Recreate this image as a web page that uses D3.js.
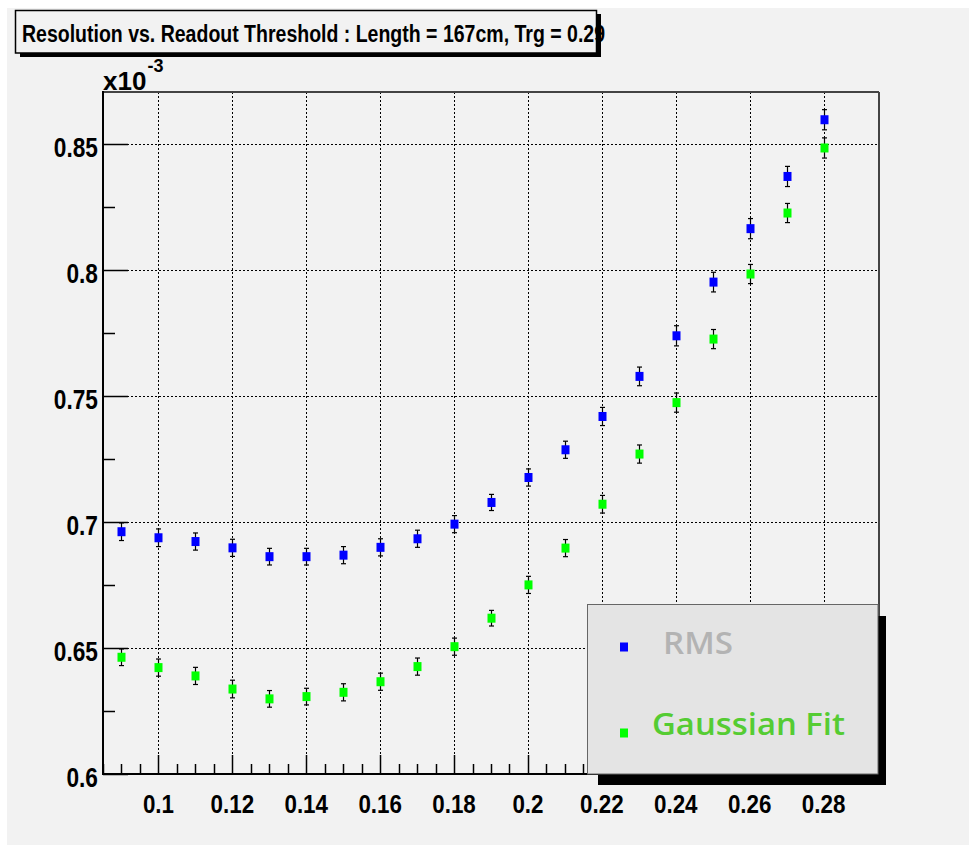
<!DOCTYPE html>
<html><head><meta charset="utf-8">
<script src="https://cdn.jsdelivr.net/npm/d3@7"></script>
<style>html,body{margin:0;padding:0;background:#fff;}svg{display:block;}</style>
</head><body>
<script>
// ---- data (y values in units of 1e-3) ----
const thresholds = [0.09,0.10,0.11,0.12,0.13,0.14,0.15,0.16,0.17,0.18,0.19,0.20,0.21,0.22,0.23,0.24,0.25,0.26,0.27,0.28];
const rmsValues = [0.6961,0.6937,0.6922,0.6897,0.6862,0.6862,0.6868,0.6899,0.6933,0.6991,0.7077,0.7176,0.7286,0.7418,0.7577,0.7738,0.7951,0.8163,0.8370,0.8595];
const rmsErrors = [0.0035,0.0035,0.0034,0.0034,0.0033,0.0033,0.0034,0.0034,0.0034,0.0034,0.0032,0.0034,0.0034,0.0036,0.0037,0.0040,0.0039,0.0040,0.0040,0.0040];
const gaussValues = [0.6463,0.6422,0.6389,0.6337,0.6298,0.6307,0.6324,0.6366,0.6426,0.6505,0.6618,0.6750,0.6896,0.7070,0.7269,0.7473,0.7725,0.7983,0.8225,0.8483];
const gaussErrors = [0.0033,0.0034,0.0034,0.0035,0.0033,0.0033,0.0034,0.0034,0.0034,0.0034,0.0031,0.0034,0.0034,0.0035,0.0036,0.0038,0.0038,0.0038,0.0038,0.0040];
const xTickValues = [0.10,0.12,0.14,0.16,0.18,0.20,0.22,0.24,0.26,0.28];
const xTickLabels = ["0.1","0.12","0.14","0.16","0.18","0.2","0.22","0.24","0.26","0.28"];
const yTickValues = [0.60,0.65,0.70,0.75,0.80,0.85];
const yTickLabels = ["0.6","0.65","0.7","0.75","0.8","0.85"];
const seriesNames = ["RMS","Gaussian Fit"];
const titleText = "Resolution vs. Readout Threshold : Length = 167cm, Trg = 0.29";

const W = 969, H = 845;
const L = 103, R = 879, T = 92, B = 774;
const svg = d3.select("body").append("svg").attr("width", W).attr("height", H);
svg.append("rect").attr("x", 7).attr("y", 8).attr("width", W - 7).attr("height", H - 8).attr("fill", "#f2f2f2");

const x = d3.scaleLinear().domain([0.085, 0.295]).range([L, R]);
const y = d3.scaleLinear().domain([0.6, 0.8705]).range([B, T]);

const labelFont = "'Liberation Sans', Arial, sans-serif";
function condense(sel, f) {
  sel.each(function () { const w = this.getComputedTextLength(); d3.select(this).attr("textLength", w * f).attr("lengthAdjust", "spacingAndGlyphs"); });
}

// grid
const grid = svg.append("g").attr("stroke", "#000").attr("stroke-width", 1).attr("stroke-dasharray", "2,2");
grid.selectAll("line.gx").data(xTickValues).join("line")
  .attr("x1", d => Math.round(x(d)) + 0.5).attr("x2", d => Math.round(x(d)) + 0.5).attr("y1", T).attr("y2", B);
grid.selectAll("line.gy").data(yTickValues.slice(1)).join("line")
  .attr("x1", L).attr("x2", R).attr("y1", d => Math.round(y(d)) + 0.5).attr("y2", d => Math.round(y(d)) + 0.5);

// frame
svg.append("line").attr("x1", L).attr("x2", R).attr("y1", T).attr("y2", T).attr("stroke", "#444").attr("stroke-width", 2);
svg.append("line").attr("x1", R).attr("x2", R).attr("y1", T).attr("y2", B).attr("stroke", "#444").attr("stroke-width", 2);

// axes with ticks drawn inward
const xMinor = d3.range(0.085, 0.2951, 0.005).map(v => +v.toFixed(3)).filter(v => !xTickValues.some(t => Math.abs(t - v) < 1e-6));
const axG = svg.append("g").attr("stroke", "#000");
axG.selectAll("line.xmaj").data(xTickValues).join("line")
  .attr("x1", d => Math.round(x(d)) + 0.5).attr("x2", d => Math.round(x(d)) + 0.5).attr("y1", B).attr("y2", B - 19).attr("stroke-width", 1.5);
axG.selectAll("line.xmin").data(xMinor).join("line")
  .attr("x1", d => Math.round(x(d)) + 0.5).attr("x2", d => Math.round(x(d)) + 0.5).attr("y1", B).attr("y2", B - 10).attr("stroke-width", 1.5);
const yMinor = [0.625,0.675,0.725,0.775,0.825];
axG.selectAll("line.ymaj").data(yTickValues).join("line")
  .attr("x1", L).attr("x2", L + 25).attr("y1", d => Math.round(y(d)) + 0.5).attr("y2", d => Math.round(y(d)) + 0.5).attr("stroke-width", 1.5);
axG.selectAll("line.ymin").data(yMinor).join("line")
  .attr("x1", L).attr("x2", L + 12).attr("y1", d => Math.round(y(d)) + 0.5).attr("y2", d => Math.round(y(d)) + 0.5).attr("stroke-width", 1.5);
svg.append("line").attr("x1", L).attr("x2", R).attr("y1", B).attr("y2", B).attr("stroke", "#000").attr("stroke-width", 2);
svg.append("line").attr("x1", L).attr("x2", L).attr("y1", T - 1).attr("y2", B + 1).attr("stroke", "#000").attr("stroke-width", 2);

// data
function drawSeries(vals, errs, color) {
  const g = svg.append("g");
  const pts = thresholds.map((t, i) => ({ t, v: vals[i], e: errs[i] }));
  g.selectAll("line.eb").data(pts).join("line")
    .attr("x1", d => Math.round(x(d.t)) + 0.5).attr("x2", d => Math.round(x(d.t)) + 0.5)
    .attr("y1", d => y(d.v + d.e)).attr("y2", d => y(d.v - d.e)).attr("stroke", "#000").attr("stroke-width", 1.2);
  g.selectAll("line.cu").data(pts).join("line")
    .attr("x1", d => Math.round(x(d.t)) - 2).attr("x2", d => Math.round(x(d.t)) + 3)
    .attr("y1", d => y(d.v + d.e)).attr("y2", d => y(d.v + d.e)).attr("stroke", "#000").attr("stroke-width", 1.2);
  g.selectAll("line.cd").data(pts).join("line")
    .attr("x1", d => Math.round(x(d.t)) - 2).attr("x2", d => Math.round(x(d.t)) + 3)
    .attr("y1", d => y(d.v - d.e)).attr("y2", d => y(d.v - d.e)).attr("stroke", "#000").attr("stroke-width", 1.2);
  g.selectAll("rect").data(pts).join("rect")
    .attr("x", d => Math.round(x(d.t)) - 3.5).attr("y", d => y(d.v) - 4.5).attr("width", 8).attr("height", 9)
    .attr("fill", color);
}
drawSeries(rmsValues, rmsErrors, "#0000ff");
drawSeries(gaussValues, gaussErrors, "#00ff00");

// tick labels
const yl = svg.append("g").attr("font-family", labelFont).attr("font-weight", "bold").attr("font-size", 27).attr("fill", "#000");
yl.selectAll("text").data(yTickValues).join("text")
  .attr("x", 98).attr("y", d => y(d) + 13).attr("text-anchor", "end").text((d, i) => yTickLabels[i]).call(condense, 0.84);
const xl = svg.append("g").attr("font-family", labelFont).attr("font-weight", "bold").attr("font-size", 26).attr("fill", "#000");
xl.selectAll("text").data(xTickValues).join("text")
  .attr("x", d => x(d)).attr("y", 813).attr("text-anchor", "middle").text((d, i) => xTickLabels[i]).call(condense, 0.86);

// exponent label
const ex = svg.append("text").attr("font-family", labelFont).attr("font-weight", "bold").attr("fill", "#000").attr("x", 103).attr("y", 90);
ex.append("tspan").attr("font-size", 26).text("x10");
ex.append("tspan").attr("font-size", 18).attr("dy", -18).attr("dx", 1).text("-3");

// legend
const lg = svg.append("g");
lg.append("rect").attr("x", 598).attr("y", 616).attr("width", 288).attr("height", 169).attr("fill", "#000");
lg.append("rect").attr("x", 587.5).attr("y", 604.5).attr("width", 290.5).attr("height", 169.5).attr("fill", "#e4e4e4").attr("stroke", "#666").attr("stroke-width", 1);
const legendColors = ["#0000ff", "#00ff00"];
const legendTextColors = ["#b3b3b3", "#55cc33"];
const legendY = [647, 733];
const legendTextX = [663, 652];
const legendTextW = [70, 193];
seriesNames.forEach((n, i) => {
  lg.append("rect").attr("x", 620).attr("y", legendY[i] - 4.5).attr("width", 8).attr("height", 9).attr("fill", legendColors[i]);
  lg.append("text").attr("x", legendTextX[i]).attr("y", legendY[i] + (i === 0 ? 7 : 2))
    .attr("font-family", "'Open Sans', 'DejaVu Sans', sans-serif").attr("font-weight", 600).attr("font-size", 30)
    .attr("fill", legendTextColors[i]).attr("textLength", legendTextW[i]).attr("lengthAdjust", "spacingAndGlyphs").text(n);
});

// title box
const tg = svg.append("g");
tg.append("rect").attr("x", 20).attr("y", 14).attr("width", 581).attr("height", 43).attr("fill", "#000");
tg.append("rect").attr("x", 15.5).attr("y", 10.5).attr("width", 581).attr("height", 42.5).attr("fill", "#f2f2f2").attr("stroke", "#000").attr("stroke-width", 1.5);
tg.append("text").attr("x", 22).attr("y", 42).attr("font-family", labelFont).attr("font-weight", "bold").attr("font-size", 23)
  .attr("fill", "#000").attr("textLength", 583).attr("lengthAdjust", "spacingAndGlyphs").text(titleText);
</script>
</body></html>
